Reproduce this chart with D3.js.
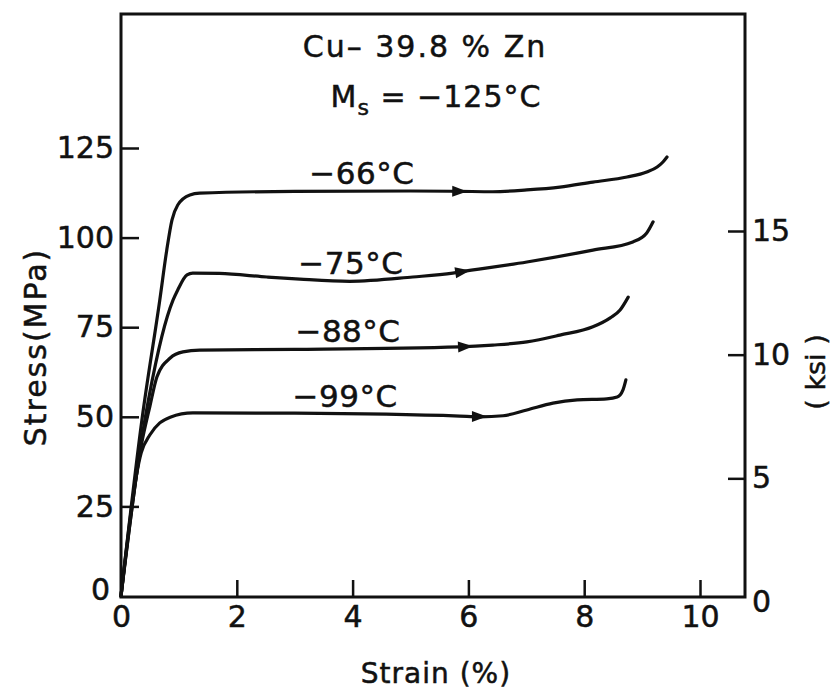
<!DOCTYPE html>
<html>
<head>
<meta charset="utf-8">
<script src="https://cdn.jsdelivr.net/npm/d3@7"></script>
<style>
  html, body { margin: 0; padding: 0; background: #fff; }
  svg { display: block; }
  text { font-family: "DejaVu Sans", sans-serif; fill: #111; stroke: #111; stroke-width: 0.5px; }
</style>
</head>
<body>
<svg id="chart" width="830" height="691"></svg>
<script>
// ---------------- data ----------------
const seriesNames = ["−66°C", "−75°C", "−88°C", "−99°C"];

const strain66 = [0, 0.36, 0.67, 0.79, 0.88, 0.98, 1.19, 1.36, 3.0, 5.0, 5.85, 6.42, 7.01, 7.58, 8.15, 8.74, 9.08, 9.26, 9.36, 9.43];
const stress66 = [0, 49, 82.6, 96.5, 104.9, 109.1, 111.9, 112.4, 112.9, 113.0, 112.9, 112.8, 113.3, 114.1, 115.5, 116.9, 118.3, 119.7, 121.1, 122.5];

const strain75 = [0, 0.35, 0.6, 0.8, 0.9, 0.98, 1.14, 1.24, 1.7, 2.52, 3.09, 3.95, 5.04, 5.73, 5.85, 7.01, 8.15, 8.84, 9.08, 9.19];
const stress75 = [0, 43, 65, 78, 82.6, 85.4, 89.6, 90.1, 90.0, 89.0, 88.4, 87.8, 89.0, 90.1, 90.4, 93.2, 96.5, 98.8, 101.3, 104.4];

const strain88 = [0, 0.35, 0.5, 0.62, 0.85, 1.07, 1.36, 3.0, 5.85, 6.42, 7.01, 7.58, 8.15, 8.45, 8.62, 8.76];
const stress88 = [0, 42, 53, 61.1, 66.4, 68.1, 68.6, 68.8, 69.5, 70.0, 70.9, 72.8, 75.1, 77.6, 79.8, 83.4];

const strain99 = [0, 0.35, 0.5, 0.67, 0.85, 1.24, 3.0, 5.85, 6.2, 6.6, 7.01, 7.46, 7.88, 8.39, 8.57, 8.67, 8.72];
const stress99 = [0, 40, 45, 48.3, 49.9, 51.1, 51.0, 50.2, 50.0, 50.3, 51.9, 53.8, 54.7, 55.0, 55.5, 57.5, 60.3];

// arrow tip strain on each curve
const arrowStrain = [5.98, 6.03, 6.08, 6.32];
// label centre strain on each curve
const labelStrain = [4.16, 3.97, 3.92, 3.87];

const xTicks = [0, 2, 4, 6, 8, 10];
const yTicksMPa = [0, 25, 50, 75, 100, 125];
const yTicksKsi = [0, 5, 10, 15];

const titleLine1 = "Cu– 39.8 % Zn";
const xTitle = "Strain (%)";
const yTitle = "Stress(MPa)";
const y2Title = "( ksi )";

// ---------------- layout ----------------
const svg = d3.select("#chart");
const plotLeft = 121, plotRight = 745, plotTop = 14;

const x = d3.scaleLinear().domain([0, 10]).range([121, 700]);
const y = d3.scaleLinear().domain([0, 125]).range([596, 148]);
const yK = d3.scaleLinear().domain([0, 15]).range([602, 231]);
const plotBottom = y(0) + 1;

const ink = "#111";

// frame
svg.append("rect")
  .attr("x", plotLeft).attr("y", plotTop)
  .attr("width", plotRight - plotLeft).attr("height", plotBottom - plotTop)
  .attr("fill", "none").attr("stroke", ink).attr("stroke-width", 3);

function styleAxis(g) {
  g.select(".domain").remove();
  g.selectAll(".tick line").attr("stroke", ink).attr("stroke-width", 2.5);
  g.selectAll(".tick text").style("font-size", "30px").attr("fill", ink)
    .style("font-family", "'DejaVu Sans', sans-serif");
  g.selectAll(".tick").filter(d => d === 0).select("line").remove();
}

// x axis (ticks pointing up into plot)
const gx = svg.append("g").attr("transform", `translate(0,${plotBottom})`)
  .call(d3.axisBottom(x).tickValues(xTicks).tickFormat(d3.format("d"))
    .tickSizeInner(-17).tickSizeOuter(0).tickPadding(9));
styleAxis(gx);

// left axis
const gy = svg.append("g").attr("transform", `translate(${plotLeft},0)`)
  .call(d3.axisLeft(y).tickValues(yTicksMPa).tickFormat(d3.format("d"))
    .tickSizeInner(-18).tickSizeOuter(0).tickPadding(7));
styleAxis(gy);
gy.selectAll(".tick").filter(d => d === 0).select("text").attr("dy", "0.1em").attr("x", -11);

// right axis (ksi)
const gy2 = svg.append("g").attr("transform", `translate(${plotRight},0)`)
  .call(d3.axisRight(yK).tickValues(yTicksKsi).tickFormat(d3.format("d"))
    .tickSizeInner(-17).tickSizeOuter(0).tickPadding(7));
styleAxis(gy2);

// curves
const allStrain = [strain66, strain75, strain88, strain99];
const allStress = [stress66, stress75, stress88, stress99];
const series = seriesNames.map((name, i) => ({
  name,
  pts: allStrain[i].map((s, j) => ({ s, v: allStress[i][j] })),
  arrow: arrowStrain[i],
  label: labelStrain[i]
}));

const line = d3.line().x(d => x(d.s)).y(d => y(d.v)).curve(d3.curveMonotoneX);

function valueAt(pts, s) {
  for (let j = 1; j < pts.length; j++) {
    if (pts[j].s >= s) {
      const a = pts[j - 1], b = pts[j];
      const t = (s - a.s) / (b.s - a.s);
      return a.v + t * (b.v - a.v);
    }
  }
  return pts[pts.length - 1].v;
}

series.forEach(sr => {
  svg.append("path").datum(sr.pts)
    .attr("d", line)
    .attr("fill", "none").attr("stroke", ink)
    .attr("stroke-width", 3.2).attr("stroke-linejoin", "round").attr("stroke-linecap", "round");

  // arrowhead
  const tipX = x(sr.arrow), tipY = y(valueAt(sr.pts, sr.arrow));
  const backS = sr.arrow - 0.25;
  const bx = x(backS), by = y(valueAt(sr.pts, backS));
  const ang = Math.atan2(tipY - by, tipX - bx);
  const L = 15, W = 5.5;
  const cx = tipX - L * Math.cos(ang), cy = tipY - L * Math.sin(ang);
  const px = -Math.sin(ang) * W, py = Math.cos(ang) * W;
  svg.append("path")
    .attr("d", `M${tipX},${tipY}L${cx + px},${cy + py}L${cx - px},${cy - py}Z`)
    .attr("fill", ink);

  // label
  svg.append("text")
    .attr("x", x(sr.label))
    .attr("y", y(valueAt(sr.pts, sr.label)) - 7)
    .attr("text-anchor", "middle")
    .style("font-size", "31px")
    .style("letter-spacing", "0.5px")
    .text(sr.name);
});

// title block
svg.append("text")
  .attr("x", 425).attr("y", 57)
  .attr("text-anchor", "middle")
  .style("font-size", "30px").style("letter-spacing", "2px")
  .text(titleLine1);

const t2 = svg.append("text")
  .attr("x", 436).attr("y", 107)
  .attr("text-anchor", "middle")
  .style("font-size", "30px").style("letter-spacing", "1px");
t2.append("tspan").text("M");
t2.append("tspan").attr("dy", 8).style("font-size", "22px").text("s");
t2.append("tspan").attr("dy", -8).text(" = −125°C");

// axis titles
svg.append("text")
  .attr("x", 436).attr("y", 683)
  .attr("text-anchor", "middle")
  .style("font-size", "28px").style("letter-spacing", "1px")
  .text(xTitle);

svg.append("text")
  .attr("transform", "translate(46,347) rotate(-90)")
  .attr("text-anchor", "middle")
  .style("font-size", "30px").style("letter-spacing", "2px")
  .text(yTitle);

svg.append("text")
  .attr("transform", "translate(825,372) rotate(-90)")
  .attr("text-anchor", "middle")
  .style("font-size", "27px")
  .text(y2Title);
</script>
</body>
</html>
